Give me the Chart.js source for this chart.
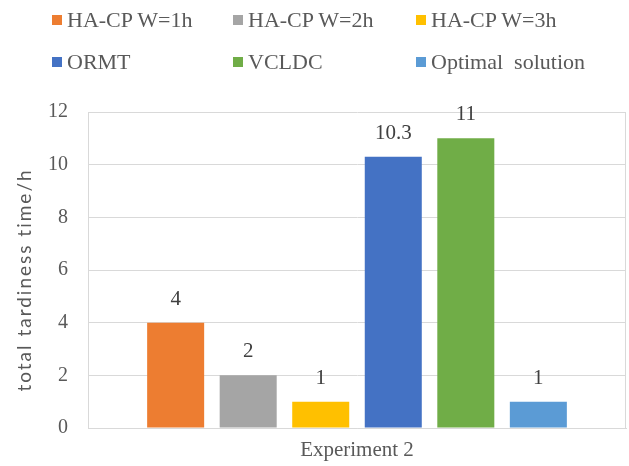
<!DOCTYPE html>
<html>
<head>
<meta charset="utf-8">
<script src="https://cdn.jsdelivr.net/npm/chart.js@4/dist/chart.umd.min.js"></script>
<style>
  html, body { margin: 0; padding: 0; background: #fff; }
  #wrap { position: relative; width: 629px; height: 466px; }
  #legend { position: absolute; left: 0; top: 0; width: 629px; height: 90px; font-family: "Liberation Serif", serif; font-size: 22px; color: #595959; }
  .item { position: absolute; display: flex; align-items: center; white-space: pre; height: 26px; }
  .sw { width: 10px; height: 10px; margin-right: 5px; flex: none; }
</style>
</head>
<body>
<div id="wrap">
  <canvas id="c" width="629" height="466"></canvas>
  <div id="legend"></div>
</div>
<script>
const categories = ["Experiment 2"];
const seriesNames = ["HA-CP W=1h", "HA-CP W=2h", "HA-CP W=3h", "ORMT", "VCLDC", "Optimal  solution"];
const seriesValues = [4, 2, 1, 10.3, 11, 1];
const seriesColors = ["#ED7D31", "#A5A5A5", "#FFC000", "#4472C4", "#70AD47", "#5B9BD5"];
const yTicks = [0, 2, 4, 6, 8, 10, 12];
const yTitle = "total tardiness time/h";

// HTML legend (2 rows x 3 columns)
const legendEl = document.getElementById("legend");
const colX = [52, 233, 416];
const rowY = [7, 49];
seriesNames.forEach((n, i) => {
  const d = document.createElement("div");
  d.className = "item";
  d.style.left = colX[i % 3] + "px";
  d.style.top = rowY[Math.floor(i / 3)] + "px";
  const s = document.createElement("span");
  s.className = "sw";
  s.style.background = seriesColors[i];
  const t = document.createElement("span");
  t.textContent = n;
  d.appendChild(s); d.appendChild(t);
  legendEl.appendChild(d);
});

const extras = {
  id: "extras",
  afterDatasetsDraw(chart) {
    const ctx = chart.ctx;
    const a = chart.chartArea;
    ctx.save();
    // right border of plot area
    ctx.strokeStyle = "#D9D9D9";
    ctx.lineWidth = 1;
    ctx.beginPath();
    ctx.moveTo(Math.round(a.right) - 0.5, a.top);
    ctx.lineTo(Math.round(a.right) - 0.5, a.bottom);
    ctx.stroke();
    // value labels
    ctx.font = '21px "Liberation Serif", serif';
    ctx.fillStyle = "#404040";
    ctx.textAlign = "center";
    ctx.textBaseline = "alphabetic";
    chart.data.datasets.forEach((ds, i) => {
      const meta = chart.getDatasetMeta(i);
      meta.data.forEach((el, j) => {
        ctx.fillText(String(ds.data[j]), el.x, el.y - 18);
      });
    });
    // y axis title
    ctx.font = '19px Lato, sans-serif';
    ctx.fillStyle = "#595959";
    if ("letterSpacing" in ctx) ctx.letterSpacing = "2px";
    ctx.translate(25, (a.top + a.bottom) / 2 + 10);
    ctx.rotate(-Math.PI / 2);
    ctx.textBaseline = "middle";
    ctx.fillText(yTitle, 0, 0);
    ctx.restore();
  }
};

new Chart(document.getElementById("c"), {
  type: "bar",
  data: {
    labels: categories,
    datasets: seriesNames.map((n, i) => ({
      label: n,
      data: [seriesValues[i]],
      backgroundColor: seriesColors[i],
      borderWidth: 0,
      barPercentage: 0.786,
      categoryPercentage: 0.809
    }))
  },
  options: {
    responsive: false,
    animation: false,
    layout: { padding: { top: 112, right: 3, left: 28, bottom: 0 } },
    plugins: {
      legend: { display: false },
      tooltip: { enabled: false }
    },
    scales: {
      x: {
        grid: { display: false, drawTicks: false },
        border: { display: true, color: "#D9D9D9", width: 1 },
        ticks: { color: "#595959", font: { family: "Liberation Serif", size: 21 }, padding: 10 },
        afterFit(scale) { scale.height = 38; }
      },
      y: {
        min: 0, max: 12,
        afterBuildTicks(scale) { scale.ticks = yTicks.map(v => ({ value: v })); },
        grid: { color: "#D9D9D9", lineWidth: 1, drawTicks: false },
        border: { display: true, color: "#D9D9D9", width: 1 },
        ticks: { color: "#595959", font: { family: "Liberation Serif", size: 20 }, padding: 20 }
      }
    }
  },
  plugins: [extras]
});
</script>
</body>
</html>
